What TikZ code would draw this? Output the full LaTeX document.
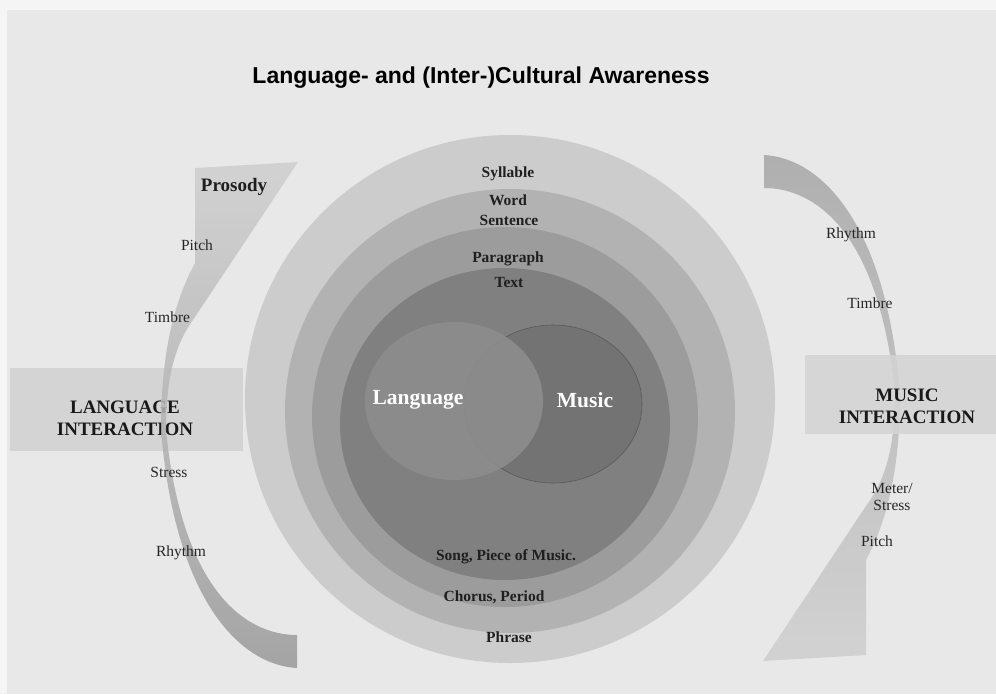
\documentclass[tikz,border=0pt]{standalone}
\usepackage{fontspec}
\setmainfont{Liberation Serif}
\newfontfamily\headfont{Liberation Sans}
\tikzset{
  ringlbl/.style={font=\bfseries\fontsize{15.5}{17}\selectfont,text=black!88,inner sep=0pt},
  sidelbl/.style={font=\fontsize{15.5}{17}\selectfont,text=black!85,inner sep=0pt,align=center},
  boxlbl/.style={font=\bfseries\fontsize{19}{22}\selectfont,text=black!90,inner sep=0pt,align=center},
  vennlbl/.style={font=\bfseries\fontsize{21.5}{24}\selectfont,text=white,inner sep=0pt},
}
\begin{document}
\begin{tikzpicture}[x=1pt,y=-1pt]
\useasboundingbox (0,0) rectangle (996,694);
\fill[black!4] (0,0) rectangle (996,694);
\fill[black!9] (7,10) rectangle (996,694);
\node[font=\headfont\bfseries\fontsize{23}{26}\selectfont,anchor=base,inner sep=0pt] (title) at (481,83) {Language- and (Inter-)Cultural Awareness};
% left box, the arrow runs over it
\fill[black!17] (10,368) rectangle (243,451);
\node[boxlbl] (langint) at (125,418) {LANGUAGE\\INTERACTION};
% rings
\foreach \cx/\cy/\rx/\ry/\g in {510/399/265/264/20, 510/411/225/222/30, 505/417/193/190/39, 505/424/165/156/50}
	\fill[black!\g] (\cx,\cy) ellipse [x radius=\rx, y radius=\ry];
\draw[fill=black!55,draw=black!65,line width=0.6pt] (553,404) ellipse [x radius=89, y radius=79];
\fill[black!45,fill opacity=0.92] (454,401) ellipse [x radius=89, y radius=79];
\node[vennlbl] (lang) at (418,400) {Language};
\node[vennlbl] (music) at (585,400) {Music};
\node[ringlbl] (syl) at (508,174) {Syllable};
\node[ringlbl] (word) at (508,200) {Word};
\node[ringlbl] (sent) at (509,220) {Sentence};
\node[ringlbl] (para) at (508,259) {Paragraph};
\node[ringlbl] (text) at (509,282) {Text};
\node[ringlbl] (song) at (506,557) {Song, Piece of Music.};
\node[ringlbl] (chorus) at (494,597) {Chorus, Period};
\node[ringlbl] (phrase) at (509,637) {Phrase};
% curved arrows
\shade[top color=black!19,bottom color=black!40,opacity=0.85] (297,668) .. controls (240,665) and (175,600) .. (161,430) .. controls (161,350) and (175,300) .. (195,263) -- (195,168) -- (298,162) -- (195,317) .. controls (178,340) and (166,370) .. (166,430) .. controls (182,590) and (245,635) .. (297,635) -- cycle;
\shade[top color=black!35,bottom color=black!19,opacity=0.85] (764,155) .. controls (821,158) and (886,223) .. (900,393) .. controls (900,473) and (886,523) .. (866,560) -- (866,655) -- (763,661) -- (866,506) .. controls (883,483) and (895,453) .. (895,393) .. controls (879,233) and (816,188) .. (764,188) -- cycle;
% right box, over the arrow
\fill[black!17,fill opacity=0.85] (805,355) rectangle (996,434);
\node[boxlbl] (musint) at (907,406) {MUSIC\\INTERACTION};
\node[font=\bfseries\fontsize{19}{21}\selectfont,text=black!88,inner sep=0pt] (prosody) at (234,187) {Prosody};
\node[sidelbl] (lpitch) at (197,245) {Pitch};
\node[sidelbl] (ltimbre) at (167.5,317) {Timbre};
\node[sidelbl] (lstress) at (169,472) {Stress};
\node[sidelbl] (lrhythm) at (181,553) {Rhythm};
\node[sidelbl] (rrhythm) at (851,235) {Rhythm};
\node[sidelbl] (rtimbre) at (870,303) {Timbre};
\node[sidelbl] (rmeter) at (892,497) {Meter/\\Stress};
\node[sidelbl] (rpitch) at (877,541) {Pitch};
\end{tikzpicture}
\end{document}
